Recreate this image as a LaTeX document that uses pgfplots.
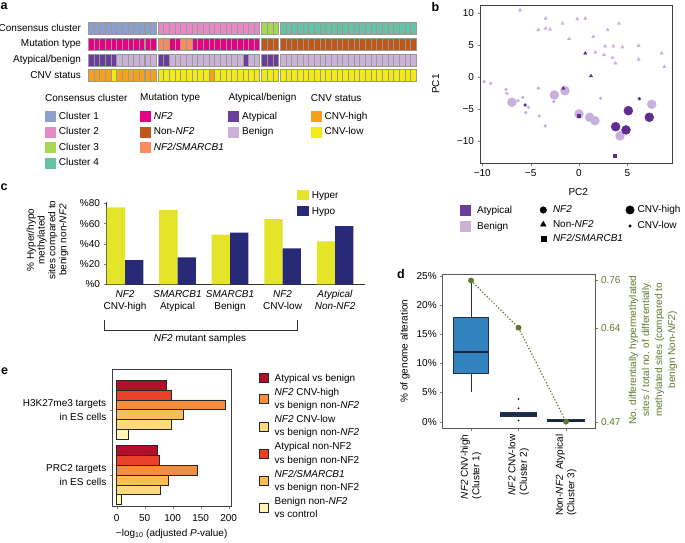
\documentclass[border=0pt]{standalone}
\usepackage{fontspec}
\setmainfont{Liberation Sans}
\usepackage{pgfplots}
\pgfplotsset{compat=1.18}
\usepackage{pgfplotstable}
\usepgfplotslibrary{statistics}

\definecolor{cl1}{RGB}{141,160,203}
\definecolor{cl2}{RGB}{231,138,195}
\definecolor{cl3}{RGB}{166,216,84}
\definecolor{cl4}{RGB}{102,194,165}
\definecolor{mNF}{RGB}{230,0,130}
\definecolor{mNon}{RGB}{190,88,28}
\definecolor{mSM}{RGB}{250,140,95}
\definecolor{aty}{RGB}{106,61,154}
\definecolor{ben}{RGB}{202,178,214}
\definecolor{cnvH}{RGB}{246,160,30}
\definecolor{cnvL}{RGB}{242,234,20}
\definecolor{pcD}{RGB}{95,45,145}
\definecolor{pcL}{RGB}{200,176,220}
\definecolor{hyper}{RGB}{228,228,40}
\definecolor{hypo}{RGB}{40,42,120}
\definecolor{boxb}{RGB}{50,130,192}
\definecolor{bdark}{RGB}{30,50,80}
\definecolor{mdark}{RGB}{25,35,60}
\definecolor{dgreen}{RGB}{95,120,45}
\definecolor{e1}{RGB}{178,16,42}
\definecolor{e2}{RGB}{232,66,40}
\definecolor{e3}{RGB}{245,142,60}
\definecolor{e4}{RGB}{250,190,85}
\definecolor{e5}{RGB}{253,218,125}
\definecolor{e6}{RGB}{255,246,188}

\pgfplotsset{/pgf/number format/assume math mode=true,
  every tick label/.append style={font=\fontsize{10}{12}\selectfont},
  label style={font=\fontsize{10}{12}\selectfont},
  legblock/.style={scale only axis, width=1pt, height=1pt, hide axis,
    xmin=0, xmax=1, ymin=0, ymax=1, anchor=north west,
    legend style={at={(0,1)}, anchor=north west, draw=none, fill=none,
      inner sep=0pt, outer sep=0pt, cells={anchor=west},
      font=\fontsize{10}{12}\selectfont}},
}

\pgfplotstableread{
x cc mt ab cnv
0.5 C1 N A H
1.5 C1 N A H
2.5 C1 N A H
3.5 C1 N A H
4.5 C1 N A L
5.5 C1 N B H
6.5 C1 N B H
7.5 C1 N B H
8.5 C1 N B H
9.5 C1 N B H
10.5 C1 N B H
11.5 C1 N B H
12.8 C2 S A L
13.8 C2 S A L
14.8 C2 N B L
15.8 C2 N B L
16.8 C2 S B L
17.8 C2 S B L
18.8 C2 N B L
19.8 C2 N B L
20.8 C2 N B L
21.8 C2 N B H
22.8 C2 N B L
23.8 C2 N B L
24.8 C2 N B L
25.8 C2 N B L
26.8 C2 N B L
27.8 C2 N A L
28.8 C2 N B L
29.8 C2 N B L
31.1 C3 O A L
32.1 C3 O A L
33.1 C3 O A L
34.4 C4 O B L
35.4 C4 O B L
36.4 C4 O B L
37.4 C4 O B L
38.4 C4 O B L
39.4 C4 O B L
40.4 C4 O B L
41.4 C4 O B L
42.4 C4 O B L
43.4 C4 O B L
44.4 C4 O B L
45.4 C4 O B L
46.4 C4 O B L
47.4 C4 O B L
48.4 C4 O B L
49.4 C4 O B L
50.4 C4 O B L
51.4 C4 O B L
52.4 C4 O B L
53.4 C4 O B L
54.4 C4 O B L
55.4 C4 O B L
56.4 C4 O B L
57.4 C4 O B L
}\heatdata

\begin{document}
\begin{tikzpicture}
\path[use as bounding box] (0pt,0pt) rectangle (685pt,543pt);

% panel letters
\node[anchor=base west, inner sep=0, font=\fontsize{12.5}{14}\selectfont\bfseries] at (0.5pt,533pt) {a};
\node[anchor=base west, inner sep=0, font=\fontsize{12.5}{14}\selectfont\bfseries] at (431.5pt,531.5pt) {b};
\node[anchor=base west, inner sep=0, font=\fontsize{12.5}{14}\selectfont\bfseries] at (0.5pt,352pt) {c};
\node[anchor=base west, inner sep=0, font=\fontsize{12.5}{14}\selectfont\bfseries] at (397pt,264pt) {d};
\node[anchor=base west, inner sep=0, font=\fontsize{12.5}{14}\selectfont\bfseries] at (1pt,168pt) {e};

% ---------------- panel a: heatmap
\begin{axis}[at={(88pt,459.6pt)}, anchor=south west, scale only axis,
  width=328pt, height=63.3pt, xmin=0, xmax=57.9, ymin=-0.5, ymax=3.5,
  axis line style={draw=none}, xtick=\empty, ytick={0,1,2,3},
  yticklabels={CNV status,Atypical/benign,Mutation type,Consensus cluster},
  ytick style={draw=none}, yticklabel style={xshift=-3.5pt}, clip=false,
  scatter/classes={C1={fill=cl1},C2={fill=cl2},C3={fill=cl3},C4={fill=cl4},
    N={fill=mNF},O={fill=mNon},S={fill=mSM},A={fill=aty},B={fill=ben},
    H={fill=cnvH},L={fill=cnvL}}]
\addplot[scatter, only marks, mark=square*, mark size=2.83pt, scatter src=explicit symbolic,
  mark options={draw=black!40, line width=0.3pt, yscale=2.12}] table[x=x, y expr=3, meta=cc] {\heatdata};
\addplot[scatter, only marks, mark=square*, mark size=2.83pt, scatter src=explicit symbolic,
  mark options={draw=black!40, line width=0.3pt, yscale=2.12}] table[x=x, y expr=2, meta=mt] {\heatdata};
\addplot[scatter, only marks, mark=square*, mark size=2.83pt, scatter src=explicit symbolic,
  mark options={draw=black!40, line width=0.3pt, yscale=2.12}] table[x=x, y expr=1, meta=ab] {\heatdata};
\addplot[scatter, only marks, mark=square*, mark size=2.83pt, scatter src=explicit symbolic,
  mark options={draw=black!40, line width=0.3pt, yscale=2.12}] table[x=x, y expr=0, meta=cnv] {\heatdata};
\end{axis}

% legend a headers
\node[anchor=west, inner sep=0] at (45pt,444.7pt) {Consensus cluster};
\node[anchor=west, inner sep=0] at (140pt,444.7pt) {Mutation type};
\node[anchor=west, inner sep=0] at (228.3pt,444.7pt) {Atypical/benign};
\node[anchor=west, inner sep=0] at (310.7pt,444.7pt) {CNV status};

\begin{axis}[legblock, at={(45pt,432pt)},
  legend style={row sep=5.2pt, column sep=3.5pt, nodes={inner sep=0pt, text height=8pt, text depth=2pt}},
  legend image code/.code={\fill[#1] (0pt,-5pt) rectangle (10pt,5pt);}]
\addlegendimage{cl1}\addlegendentry{Cluster 1}
\addlegendimage{cl2}\addlegendentry{Cluster 2}
\addlegendimage{cl3}\addlegendentry{Cluster 3}
\addlegendimage{cl4}\addlegendentry{Cluster 4}
\end{axis}
\begin{axis}[legblock, at={(140pt,432pt)},
  legend style={row sep=5.2pt, column sep=3.5pt, nodes={inner sep=0pt, text height=8pt, text depth=2pt}},
  legend image code/.code={\fill[#1] (0pt,-5pt) rectangle (10pt,5pt);}]
\addlegendimage{mNF}\addlegendentry{\textit{NF2}}
\addlegendimage{mNon}\addlegendentry{Non-\textit{NF2}}
\addlegendimage{mSM}\addlegendentry{\textit{NF2/SMARCB1}}
\end{axis}
\begin{axis}[legblock, at={(228.3pt,432pt)},
  legend style={row sep=5.2pt, column sep=3.5pt, nodes={inner sep=0pt, text height=8pt, text depth=2pt}},
  legend image code/.code={\fill[#1] (0pt,-5pt) rectangle (10pt,5pt);}]
\addlegendimage{aty}\addlegendentry{Atypical}
\addlegendimage{ben}\addlegendentry{Benign}
\end{axis}
\begin{axis}[legblock, at={(310.7pt,432pt)},
  legend style={row sep=5.2pt, column sep=3.5pt, nodes={inner sep=0pt, text height=8pt, text depth=2pt}},
  legend image code/.code={\fill[#1] (0pt,-5pt) rectangle (10pt,5pt);}]
\addlegendimage{cnvH}\addlegendentry{CNV-high}
\addlegendimage{cnvL}\addlegendentry{CNV-low}
\end{axis}

% ---------------- panel b: PCA
\begin{axis}[at={(480pt,379.7pt)}, anchor=south west, scale only axis,
  width=192.7pt, height=158.3pt, xmin=-10.24, xmax=9.69, ymin=-13.44, ymax=11.3,
  xtick={-10,-5,0,5}, xticklabels={−10,−5,0,5},
  ytick={-10,-5,0,5,10}, yticklabels={−10,−5,0,5,10},
  tick align=outside, xtick pos=left, ytick pos=left, major tick length=2.5pt,
  xlabel={PC2}, ylabel={PC1},
  xlabel style={at={(axis description cs:0.51,-0.179)}, anchor=center},
  ylabel style={at={(axis description cs:-0.23,0.5)}, anchor=center},
  axis line style={black!75, line width=0.7pt}]
\addplot[only marks, mark=*, mark size=4.5pt, pcL] coordinates {
 (-6.93,-3.9) (-2.55,-2.77) (-1.45,-2.09) (0,-5.73) (1.1,-6.25) (1.65,-6.78) (4.24,-9.17) (7.52,-4.22)};
\addplot[only marks, mark=*, mark size=4.5pt, pcD] coordinates {
 (3.79,-7.72) (5.1,-5.22) (4.86,-8.23) (7.27,-6.25)};
\addplot[only marks, mark=triangle*, mark size=1.9pt, pcL] coordinates {
 (-6.1,10.5) (-3.45,9.2) (-4.2,7.4) (-3.45,7.65) (-3.0,7.5) (-1.7,8.4) (-1.03,6.0)
 (-0.17,9.1) (0.65,9.2) (1.48,6.35) (1.69,3.9) (2.59,3.5) (2.69,4.85) (2.97,7.4)
 (4.14,8.4) (3.55,4.85) (3.45,3.06) (3.76,2.2) (4.5,4.7) (6.17,4.95) (6.17,2.8)
 (8.55,3.75) (8.83,1.65)};
\addplot[only marks, mark=*, mark size=1.5pt, pcL] coordinates {
 (-9.82,-0.69) (-9.13,-0.94) (-7.55,-1.88) (-7.45,-2.5) (-6.3,-3.65) (-5.82,-3.13)
 (-5.24,-4.69) (-5.51,-5.53) (-4.2,-1.72) (-4.13,-6.05) (-3.5,-7.6) (-2.62,-3.8) (2.24,-3.28)};
\addplot[only marks, mark=triangle*, mark size=1.9pt, pcD] coordinates {
 (0.65,3.75) (1.24,0.2) (-1.62,-1.72)};
\addplot[only marks, mark=*, mark size=1.5pt, pcD] coordinates {
 (-5.58,-4.33) (6.24,-3.34)};
\addplot[only marks, mark=square*, mark size=1.4pt, pcD] coordinates {
 (-0.03,-6.0) (3.72,-12.25)};
\end{axis}

% legend b
\begin{axis}[legblock, at={(460pt,338pt)},
  legend style={row sep=5.7pt, column sep=6.7pt, nodes={inner sep=0pt, text height=8pt, text depth=2pt}},
  legend image code/.code={\fill[#1] (0pt,-5pt) rectangle (10pt,5pt);}]
\addlegendimage{aty}\addlegendentry{Atypical}
\addlegendimage{ben}\addlegendentry{Benign}
\end{axis}
\begin{axis}[legblock, at={(540pt,338pt)},
  legend style={row sep=4.5pt, column sep=6.4pt, nodes={inner sep=0pt, text height=8pt, text depth=2pt}},
  legend image code/.code={\draw[#1] plot coordinates {(3.3pt,0pt)};}]
\addlegendimage{only marks, mark=*, mark size=3.3pt, black}\addlegendentry{\textit{NF2}}
\addlegendimage{only marks, mark=triangle*, mark size=3.3pt, black}\addlegendentry{Non-\textit{NF2}}
\addlegendimage{only marks, mark=square*, mark size=2.6pt, black}\addlegendentry{\textit{NF2/SMARCB1}}
\end{axis}
\begin{axis}[legblock, at={(625.8pt,338pt)},
  legend style={row sep=6pt, column sep=3.5pt, nodes={inner sep=0pt, text height=8pt, text depth=2pt}},
  legend image code/.code={\draw[#1] plot coordinates {(4.2pt,0pt)};}]
\addlegendimage{only marks, mark=*, mark size=4.2pt, black}\addlegendentry{CNV-high}
\addlegendimage{only marks, mark=*, mark size=1.4pt, black}\addlegendentry{CNV-low}
\end{axis}

% ---------------- panel c: bars
\begin{axis}[at={(106pt,258.7pt)}, anchor=south west, scale only axis,
  width=259pt, height=82.6pt,
  ybar=0pt, bar width=18.3pt, xmin=-0.362, xmax=4.57, ymin=0, ymax=81.6,
  axis x line*=bottom, axis y line*=left, axis line style={-, black!80},
  xtick={0,1,2,3,4}, xtick style={draw=none},
  xticklabels={{\textit{NF2}\\CNV-high},{\textit{SMARCB1}\\Atypical},{\textit{SMARCB1}\\Benign},{\textit{NF2}\\CNV-low},{\textit{Atypical}\\\textit{Non-NF2}}},
  xticklabel style={align=center, font=\fontsize{10}{11.7}\selectfont},
  ytick={0,20,40,60,80}, yticklabels={\%0,\%20,\%40,\%60,\%80},
  tick align=outside, major tick length=2.5pt,
  ylabel={\% Hyper/hypo\\methylated\\sites compared to\\benign non-\textit{NF2}},
  ylabel style={at={(axis description cs:-0.226,0.536)}, anchor=center, align=center, font=\fontsize{10}{10.8}\selectfont},
  legend style={at={(axis description cs:0.7363,1.1416)}, anchor=north west, draw=none, fill=none,
    inner sep=0pt, row sep=6pt, column sep=3.4pt, cells={anchor=west},
    nodes={inner sep=0pt, text height=8pt, text depth=2pt}, font=\fontsize{10}{12}\selectfont},
  legend image code/.code={\fill[#1] (0pt,-5pt) rectangle (11.6pt,5pt);}]
\addplot[fill=hyper, draw=none] coordinates {(0,76) (1,73.5) (2,49) (3,64.5) (4,42.5)};
\addlegendentry{Hyper}
\addplot[fill=hypo, draw=none] coordinates {(0,24) (1,26.5) (2,51) (3,35.5) (4,57.5)};
\addlegendentry{Hypo}
\end{axis}
% bracket
\draw[black!80, line width=0.6pt] (104.3pt,223pt) -- (104.3pt,213pt) -- (297.7pt,213pt) -- (297.7pt,223pt);
\node[inner sep=0] at (200pt,204pt) {\textit{NF2} mutant samples};

% ---------------- panel d: boxplot
\begin{axis}[at={(442.7pt,114.3pt)}, anchor=south west, scale only axis,
  width=152.3pt, height=154.6pt, xmin=0.404, xmax=3.61, ymin=-1.2, ymax=25.3,
  xtick={1,2,3},
  xticklabels={{\textit{NF2} CNV-high\\(Cluster 1)},{\textit{NF2} CNV-low\\(Cluster 2)},{Non-\textit{NF2}\ \ Atypical\\(Cluster 3)}},
  xticklabel style={rotate=90, anchor=east, align=left, font=\fontsize{10}{11.7}\selectfont},
  ytick={0,5,10,15,20,25}, yticklabels={0\%,5\%,10\%,15\%,20\%,25\%},
  tick align=outside, xtick pos=left, ytick pos=left, major tick length=2.5pt,
  ylabel={\% of genome alteration},
  ylabel style={at={(axis description cs:-0.2475,0.5026)}, anchor=center},
  axis line style={black!65, line width=0.8pt},
  boxplot/draw direction=y,
  boxplot/whisker extend=0,
  boxplot/every median/.style={line width=1.8pt, draw=mdark}]
\addplot[boxplot prepared={draw position=1, lower whisker=5.1, lower quartile=8.25,
  median=11.9, upper quartile=17.8, upper whisker=24.2, box extend=0.75},
  fill=boxb, draw=bdark, line width=0.8pt] coordinates {};
\addplot[boxplot prepared={draw position=2, lower whisker=0.9, lower quartile=1.0,
  median=1.25, upper quartile=1.5, upper whisker=1.7, box extend=0.76},
  fill=boxb, draw=bdark, line width=1.6pt, mark=*, mark size=0.7pt,
  mark options={fill=black, draw=black, line width=0.3pt}] table[row sep=\\, y index=0] {3.9\\2.3\\0.2\\};
\addplot[boxplot prepared={draw position=3, lower whisker=0.0, lower quartile=0.05,
  median=0.15, upper quartile=0.3, upper whisker=0.35, box extend=0.75},
  fill=boxb, draw=bdark, line width=1.6pt] coordinates {};
\end{axis}
\begin{axis}[at={(442.7pt,114.3pt)}, anchor=south west, scale only axis,
  width=152.3pt, height=154.6pt, xmin=0.404, xmax=3.61, ymin=-1.2, ymax=25.3,
  axis x line=none, axis y line*=right, axis line style={draw=none},
  ytick={0,16.1,24.2}, yticklabels={0.47,0.64,0.76},
  yticklabel style={text=dgreen}, ytick style={dgreen},
  tick align=outside, major tick length=2.5pt,
  ylabel={No. differentially hypermethylated\\sites / total no. of differentially\\methylated sites (compared to\\benign Non-\textit{NF2})},
  ylabel style={at={(axis description cs:1.381,0.509)}, anchor=center, align=center, text=dgreen,
    font=\fontsize{10}{13}\selectfont}]
\addplot[dgreen, dotted, line width=1.2pt, mark=*, mark size=2.3pt, mark options={solid}]
  coordinates {(1,24.2) (2,16.1) (3,0)};
\end{axis}

% ---------------- panel e: horizontal bars
\begin{axis}[at={(112.3pt,37pt)}, anchor=south west, scale only axis,
  width=118.7pt, height=136.7pt,
  xbar=0pt, bar width=9.9pt, y dir=reverse,
  xmin=-7.9, xmax=204.1, ymin=-0.619, ymax=1.475,
  ytick={0,1}, yticklabels={{H3K27me3 targets\\in ES cells},{PRC2 targets\\in ES cells}},
  yticklabel style={align=right, font=\fontsize{10}{14}\selectfont},
  xtick={0,50,100,150,200}, tick align=outside, xtick pos=left, ytick pos=left,
  major tick length=2.5pt, xticklabel style={yshift=-2pt},
  xlabel={−log\textsubscript{10} (adjusted \textit{P}-value)},
  xlabel style={yshift=-1pt},
  axis line style={black!75, line width=0.7pt}]
\addplot[fill=e6, draw=black!85, line width=0.6pt] coordinates {(21,0) (9,1)};
\addplot[fill=e5, draw=black!85, line width=0.6pt] coordinates {(98,0) (78.6,1)};
\addplot[fill=e4, draw=black!85, line width=0.6pt] coordinates {(119,0) (93,1)};
\addplot[fill=e3, draw=black!85, line width=0.6pt] coordinates {(194,0) (144,1)};
\addplot[fill=e2, draw=black!85, line width=0.6pt] coordinates {(98,0) (76,1)};
\addplot[fill=e1, draw=black!85, line width=0.6pt] coordinates {(89,0) (73,1)};
\end{axis}

% legend e
\begin{axis}[legblock, at={(259.3pt,169.7pt)},
  legend style={row sep=5.2pt, column sep=5.7pt, nodes={inner sep=0pt},
    cells={anchor=west, align=left}, font=\fontsize{10}{13.3}\selectfont},
  legend image code/.code={\draw[#1] (0pt,-4.5pt) rectangle (9pt,4.5pt);}]
\addlegendimage{fill=e1, draw=black!85, line width=0.7pt}\addlegendentry{Atypical vs benign}
\addlegendimage{fill=e3, draw=black!85, line width=0.7pt}\addlegendentry{\textit{NF2} CNV-high\\vs benign non-\textit{NF2}}
\addlegendimage{fill=e5, draw=black!85, line width=0.7pt}\addlegendentry{\textit{NF2} CNV-low\\vs benign non-\textit{NF2}}
\addlegendimage{fill=e2, draw=black!85, line width=0.7pt}\addlegendentry{Atypical non-NF2\\vs benign non-NF2}
\addlegendimage{fill=e4, draw=black!85, line width=0.7pt}\addlegendentry{\textit{NF2/SMARCB1}\\vs benign non-NF2}
\addlegendimage{fill=e6, draw=black!85, line width=0.7pt}\addlegendentry{Benign non-\textit{NF2}\\vs control}
\end{axis}

\end{tikzpicture}
\end{document}
